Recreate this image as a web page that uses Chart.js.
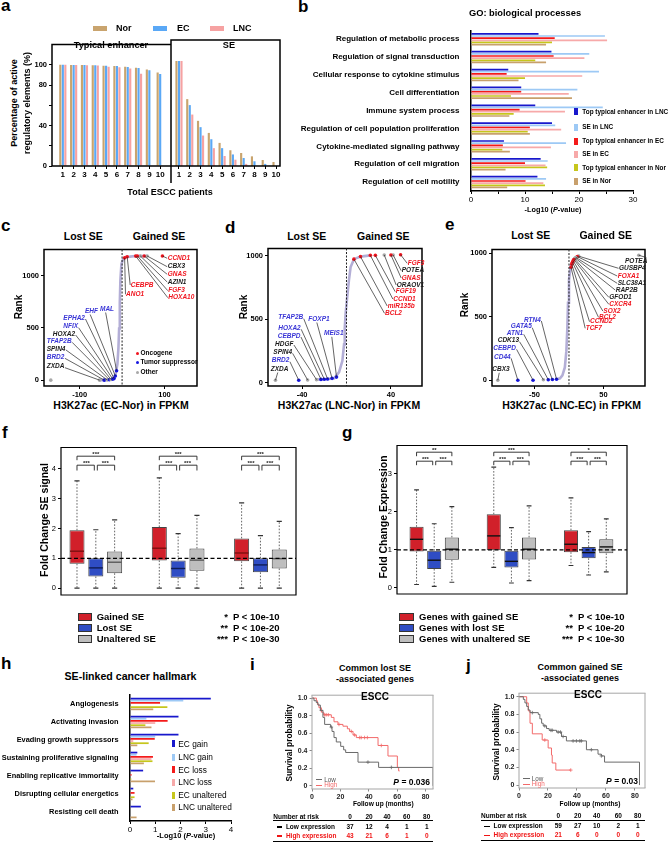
<!DOCTYPE html>
<html>
<head>
<meta charset="utf-8">
<title>SE figure</title>
<script src="https://cdn.jsdelivr.net/npm/chart.js@4.4.1/dist/chart.umd.min.js"></script>
<style>
  html, body { margin: 0; padding: 0; background: #fff; }
  body { position: relative; width: 670px; height: 842px; overflow: hidden;
         font-family: "Liberation Sans", Arial, sans-serif; color: #000; }
  canvas { position: absolute; }
  .t { position: absolute; white-space: nowrap; line-height: 1; font-weight: bold; }
</style>
</head>
<body>
<script>
// ---------- data ----------
// a: % active regulatory elements vs number of patients
const patients = [1, 2, 3, 4, 5, 6, 7, 8, 9, 10];
const typNor = [100, 99.8, 99.7, 99.4, 99.1, 98.7, 98.1, 97.1, 95.2, 92.4];
const typEC  = [100, 99.8, 99.7, 99.4, 99.1, 98.7, 97.8, 96.8, 94.6, 90.8];
const typLNC = [100, 99.8, 99.5, 99.2, 98.1, 97.5, 96.2, 91.1, null, null];
const seNor  = [100, 63.7, 43, 31.5, 22, 15, 12.4, 9.2, 5.7, 3.8];
const seEC   = [100, 58, 37, 25.5, 17, 11, 7.6, 4.5, 2, null];
const seLNC  = [100, 49, 29, 17, 9.5, 6, 2, null, null, null];
const aYTicks = [0, 20, 40, 60, 80, 100];
const aYLabels = [0, 40, 80, 100];

// b: GO biological processes, -log10 P
const goTerms = ['Regulation of metabolic process', 'Regulation of signal transduction',
  'Cellular response to cytokine stimulus', 'Cell differentiation', 'Immune system process',
  'Regulation of cell population proliferation', 'Cytokine-mediated signaling pathway',
  'Regulation of cell migration', 'Regulation of cell motility'];
const goSeries = ['Top typical enhancer in LNC', 'SE in LNC', 'Top typical enhancer in EC',
  'SE in EC', 'Top typical enhancer in Nor', 'SE in Nor'];
const goTopLNC = [12.5, 14.9, 6.9, 9.3, 11.9, 15.0, 6.1, 12.9, 12.3];
const goSeLNC  = [24.8, 21.9, 23.7, 19.7, 24.4, 15.6, 17.6, 14.2, 13.9];
const goTopEC  = [15.5, 15.3, 6.6, 9.3, 9.0, 10.9, 5.9, 10.0, 10.1];
const goSeEC   = [25.2, 21.0, 20.6, 18.1, 17.4, 16.7, 14.8, 13.8, 13.4];
const goTopNor = [15.0, 11.9, 10.0, 7.4, 7.9, 10.5, 5.8, 14.1, 13.7];
const goSeNor  = [13.9, 13.9, 8.8, 18.7, 7.1, 10.9, 7.2, 6.4, 6.7];

// c: EC-Nor rank plot
const cCurveX = [-53, -42, -26, -19, -15, -11, -8.6, -7, -5.4, -4, -1.6, 2.3, 8.6, 18.6, 32, 59];
const cCurveY = [0, 0, 6, 15, 62, 154, 308, 494, 740, 957, 1111, 1157, 1179, 1182, 1188, 1188];
const cGenes = ['ZXDA', 'BRD2', 'SPIN4', 'TFAP2B', 'HOXA2', 'NFIX', 'EPHA2', 'EHF', 'MAL',
  'CCND1', 'CBX3', 'GNAS', 'AZIN1', 'FGF3', 'HOXA10', 'CEBPB', 'ANO1', ''];
const cGeneX = [-53, -42, -35, -30, -26, -22, -19, -16, -13, 95, 59, 52, 43, 36, 32, 12, 6, -168];
const cGeneY = [0, 0, 2, 4, 6, 10, 15, 40, 90, 1188, 1188, 1188, 1188, 1188, 1187, 1180, 1170, 0];
const cGeneT = ['n', 't', 'n', 't', 'n', 't', 't', 't', 't', 'o', 'n', 'o', 'n', 'o', 'o', 'o', 'o', 'n'];

// d: LNC-Nor rank plot
const dCurveX = [-27, -23, -17, -11, -6.7, -3.7, -2.2, -1.6, -0.7, 0.7, 2.2, 3.7, 6.7, 12.6, 21.5];
const dCurveY = [25, 27, 29, 35, 84, 173, 303, 427, 555, 682, 809, 913, 975, 995, 1005];
const dGenes = ['ZXDA', 'BRD2', 'SPIN4', 'HDGF', 'CEBPD', 'HOXA2', 'TFAP2B', 'FOXP1', 'MEIS1',
  'FGF3', 'POTEA', 'GNAS', 'ORAOV1', 'FGF19', 'CCND1', 'miR135b', 'BCL2'];
const dGeneX = [-64, -43, -35, -27, -23, -20, -17, -13, -9, 48.7, 42, 40, 34, 26, 21.5, 12.6, 6.7];
const dGeneY = [20, 20, 22, 25, 27, 28, 30, 35, 45, 1010, 1008, 1008, 1008, 1005, 1005, 995, 975];
const dGeneT = ['n', 't', 'n', 'n', 't', 't', 't', 't', 't', 'o', 'n', 'o', 'n', 'o', 'o', 'o', 'o'];

// e: LNC-EC rank plot
const eCurveX = [-18, -13, -9.5, -6, -3.8, -2.4, -1.4, 0, 2.4, 7, 12, 16];
const eCurveY = [8, 15, 38, 101, 229, 407, 611, 789, 903, 954, 975, 980];
const eGenes = ['CBX3', 'CD44', 'CEBPD', 'CDK13', 'ATN1', 'GATA5', 'RTN4', 'POTEA', 'GUSBP4',
  'FOXA1', 'SLC38A1', 'RAP2B', 'GFOD1', 'CXCR4', 'SOX2', 'BCL2', 'CCND2', 'TCF7'];
const eGeneX = [-103, -74, -52, -37, -30, -24, -18, 101, 14, 12, 10, 9, 8, 7, 6, 5, 4, 3];
const eGeneY = [0, 0, 0, 3, 4, 5, 8, 985, 978, 975, 968, 963, 958, 952, 942, 930, 915, 890];
const eGeneT = ['n', 't', 't', 'n', 't', 't', 't', 'n', 'n', 'o', 'n', 'n', 'n', 'o', 'o', 'o', 'o', 'o'];

// f, g: box plots, each entry [min, q1, median, q3, max]
const boxGroups = ['EC/Nor', 'LNC/Nor', 'LNC/EC'];
const fGained = [[0, 0.82, 1.24, 1.94, 3.6], [0, 0.93, 1.34, 2.05, 3.7], [0, 0.9, 1.18, 1.67, 2.86]];
const fLost   = [[0, 0.39, 0.68, 1.0, 1.96], [0, 0.35, 0.66, 0.93, 1.83], [0, 0.53, 0.78, 1.0, 1.76]];
const fUnalt  = [[0, 0.5, 0.87, 1.23, 2.29], [0, 0.58, 0.94, 1.33, 2.44], [0, 0.66, 0.99, 1.3, 2.24]];
const fStars  = [['***', '***', '***'], ['***', '***', '***'], ['***', '***', '***']];
const gGained = [[0.09, 0.96, 1.28, 1.61, 2.58], [0.54, 0.99, 1.37, 1.94, 3.18], [0.59, 0.94, 1.15, 1.52, 2.37]];
const gLost   = [[0.04, 0.5, 0.73, 0.98, 1.69], [0.13, 0.54, 0.7, 0.98, 1.59], [0.34, 0.78, 0.93, 1.08, 1.48]];
const gUnalt  = [[0.15, 0.74, 1.02, 1.33, 2.14], [0.19, 0.75, 1.02, 1.33, 2.16], [0.42, 0.91, 1.08, 1.28, 1.82]];
const gStars  = [['**', '***', '***'], ['***', '***', '***'], ['*', '***', '***']];

// h: cancer hallmarks, -log10 P
const hTerms = ['Angiogenesis', 'Activating invasion', 'Evading growth suppressors',
  'Sustaining proliferative signaling', 'Enabling replicative immortality',
  'Disrupting cellular energetics', 'Resisting cell death'];
const hSeries = ['EC gain', 'LNC gain', 'EC loss', 'LNC loss', 'EC unaltered', 'LNC unaltered'];
const hECgain   = [3.2, 1.92, 1.92, 0.29, 0.52, 0.13, 0.43];
const hLNCgain  = [2.11, 0.65, 1.0, 0.26, 0, 0, 0];
const hECloss   = [1.19, 1.49, 0.98, 0.91, 0.06, 0.18, 0];
const hLNCloss  = [0, 1.0, 0.13, 0.85, 0, 0, 0];
const hECunalt  = [1.48, 0.61, 0.74, 0.89, 0.05, 0.18, 0];
const hLNCunalt = [0.92, 0.85, 0.29, 0.55, 0.99, 0.1, 0.26];

// i, j: Kaplan-Meier (time in months, survival)
const iLowT  = [0, 1.4, 3, 4.2, 5.9, 7.7, 8.9, 13.1, 14.1, 15.5, 17.1, 20.2, 22.3, 23.7, 32.4, 46.9, 85.2];
const iLowS  = [1, 0.97, 0.95, 0.92, 0.86, 0.78, 0.70, 0.67, 0.62, 0.55, 0.50, 0.45, 0.41, 0.38, 0.27, 0.21, 0];
const iHighT = [0, 3.1, 3.8, 4.9, 6.6, 8.2, 13.6, 15.5, 18.3, 21.8, 24.9, 26.5, 28.9, 31.2, 46.5, 53.5, 60.1, 61, 61.7];
const iHighS = [1, 0.97, 0.93, 0.89, 0.84, 0.81, 0.78, 0.73, 0.70, 0.68, 0.65, 0.62, 0.58, 0.55, 0.46, 0.34, 0.21, 0.17, 0.17];
const iLowC  = [6.6, 13.6, 39.4, 55.9];
const iHighC = [8.9, 10, 11.5, 19, 27.7, 30, 33.6, 34.7, 37, 39, 48.8];
const jLowT  = [0, 3, 4.1, 5.3, 6.4, 7.6, 13.3, 14.4, 15.6, 16.7, 19, 20.8, 25.9, 29.3, 32.7, 46.5, 54.5, 56.8, 59, 83.1];
const jLowS  = [1, 0.97, 0.93, 0.89, 0.85, 0.82, 0.80, 0.75, 0.70, 0.67, 0.64, 0.62, 0.60, 0.55, 0.50, 0.40, 0.35, 0.33, 0.26, 0];
const jHighT = [0, 4.1, 5.3, 6.4, 7.6, 9.2, 16, 20.1, 22.4, 22.9, 25.4, 35.7];
const jHighS = [1, 1, 0.93, 0.84, 0.70, 0.58, 0.51, 0.42, 0.34, 0.25, 0.17, 0.17];
const jLowC  = [9.2, 17.8, 22, 22.9, 27, 28.6, 30.4, 37.3, 39.6, 41.9, 43, 49.9, 56.8];
const jHighC = [17.8, 35.7];
const riskTimes = [0, 20, 40, 60, 80];
const iRiskLow = [37, 12, 4, 1, 1], iRiskHigh = [43, 21, 6, 1, 0];
const jRiskLow = [59, 27, 10, 2, 1], jRiskHigh = [21, 6, 0, 0, 0];

// ---------- layout / style ----------
const FF = '"Liberation Sans", Arial, sans-serif';
const F = (size, weight = 'bold') => ({ size, weight, family: FF });
const C = { nor: '#C9A46E', ec: '#5AA8F6', lnc: '#F6A2A2' };
const SIXC = ['#1818CC', '#9DC9F5', '#F41A1A', '#F7A9A9', '#C6C61C', '#C8A06C'];
const PTC = { o: '#F0141E', t: '#1616E0', n: '#A8A8A8' };
const LABC = { o: '#F0141E', t: '#3A36D6', n: '#1a1a1a' };
const BOXC = ['#D1202A', '#2F4DC4', '#BEBEBE'];
const RED = '#F01414';
const TG = { drawOnChartArea: false, tickLength: 3, color: '#000', lineWidth: 1 };
const plain = v => String(v);

// label anchors (page px) and where the leader line leaves the label
const cLabPos = [[46.7, 366.7], [46.7, 357.3], [46.7, 349], [46.7, 341.3], [52.7, 334], [63.3, 326.7],
  [63.3, 318], [85, 311], [100, 309], [167.7, 258.3], [167.7, 266.7], [167.7, 274.3], [167.7, 282],
  [168.3, 290.7], [168.3, 297.7], [130.7, 285], [126, 294.3], null];
const cLabAtt = ['r', 'r', 'r', 'r', 'r', 'r', 'r', 'b', 'b', 'l', 'l', 'l', 'l', 'l', 'l', 'l', 'l', ''];
const dLabPos = [[270.7, 369], [271.7, 360.7], [273.3, 352.3], [275, 344], [277.7, 336], [278.3, 328.3],
  [278.3, 317.7], [308.3, 319], [324, 333.3], [407.7, 263.3], [401.7, 270.7], [401.7, 278], [396.7, 285],
  [395.7, 291.7], [393.3, 299], [387.7, 306], [385, 313.3]];
const dLabAtt = ['b', 'r', 'r', 'r', 'r', 'r', 'r', 'b', 'b', 'l', 'l', 'l', 'l', 'l', 'l', 'l', 'l'];
const eLabPos = [[492.3, 369.3], [494, 357.3], [493.3, 348.3], [497.7, 340.7], [506.7, 333.3], [510.7, 326.7],
  [524, 320], [625, 261], [619, 268.3], [617.7, 276], [617.7, 283.3], [615.7, 290], [609.3, 297.3],
  [609.3, 304.3], [603.3, 311], [599, 317.3], [590, 321.7], [585.7, 328.3]];
const eLabAtt = ['b', 'r', 'r', 'r', 'r', 'r', 'r', 't', 'l', 'l', 'l', 'l', 'l', 'l', 'l', 'l', 'l', 'l'];

// ---------- helpers ----------
function T(html, x, y, size, o = {}) {
  const d = document.createElement('div');
  d.className = 't';
  d.innerHTML = html;
  d.style.left = x + 'px';
  d.style.top = y + 'px';
  d.style.fontSize = size + 'px';
  if (o.w) d.style.fontWeight = o.w;
  if (o.c) d.style.color = o.c;
  if (o.i) d.style.fontStyle = 'italic';
  const ax = { l: '0', c: '-50%', r: '-100%' }[o.a || 'l'];
  d.style.transform = o.rot ? 'translate(-50%,-50%) rotate(-90deg)' : `translate(${ax},-50%)`;
  document.body.appendChild(d);
}
function R(x, yc, w, h, fill, border, round) {
  const d = document.createElement('div');
  Object.assign(d.style, { position: 'absolute', left: x + 'px', top: (yc - h / 2) + 'px',
    width: w + 'px', height: h + 'px', background: fill, boxSizing: 'border-box' });
  if (border) d.style.border = '1px solid ' + border;
  if (round) d.style.borderRadius = '50%';
  document.body.appendChild(d);
}
function L(x0, y, x1, col, h = 1) { R(x0, y, x1 - x0, h, col); }

function mkChart(box, pad, cfg, plugins) {
  const cv = document.createElement('canvas');
  const W = Math.round(box.w + pad.l + pad.r), H = Math.round(box.h + pad.t + pad.b);
  cv.width = W; cv.height = H;
  cv.style.left = (box.x - pad.l) + 'px';
  cv.style.top = (box.y - pad.t) + 'px';
  cv.style.width = W + 'px'; cv.style.height = H + 'px';
  cv._ox = box.x - pad.l; cv._oy = box.y - pad.t;
  document.body.appendChild(cv);
  const o = cfg.options;
  const sx = o.scales.x, sy = o.scales.y;
  const xShown = sx.display !== false, yShown = sy.display !== false;
  o.responsive = false; o.animation = false; o.devicePixelRatio = 1;
  o.plugins = Object.assign({ legend: { display: false }, tooltip: { enabled: false } }, o.plugins || {});
  o.layout = { padding: { top: pad.t, right: pad.r, left: yShown ? 0 : pad.l, bottom: xShown ? 0 : pad.b } };
  if (xShown) sx.afterFit = s => { s.height = pad.b; };
  if (yShown) sy.afterFit = s => { s.width = pad.l; };
  cfg.plugins = plugins || [];
  return new Chart(cv, cfg);
}
function frame(color, lw, sides, extra) {
  return { id: 'frame', afterDatasetsDraw(ch) {
    const a = ch.chartArea, c = ch.ctx;
    c.save(); c.strokeStyle = color; c.lineWidth = lw; c.beginPath();
    if (sides.includes('t')) { c.moveTo(a.left - lw / 2, a.top); c.lineTo(a.right + lw / 2, a.top); }
    if (sides.includes('b')) { c.moveTo(a.left - lw / 2, a.bottom); c.lineTo(a.right + lw / 2, a.bottom); }
    if (sides.includes('l')) { c.moveTo(a.left, a.top); c.lineTo(a.left, a.bottom + (extra || 0)); }
    if (sides.includes('r')) { c.moveTo(a.right, a.top); c.lineTo(a.right, a.bottom); }
    c.stroke(); c.restore();
  } };
}
const fixTicks = vals => s => { s.ticks = vals.map(v => ({ value: v })); };

// ---------- panel a ----------
function aSets(nor, ec, lnc) {
  return [nor, ec, lnc].map((arr, k) => ({
    data: patients.map((p, i) => ({ x: p, y: arr[i] })),
    backgroundColor: [C.nor, C.ec, C.lnc][k],
    categoryPercentage: 0.7, barPercentage: 0.85
  }));
}
function aOpts(xmin, xmax, showY) {
  return { scales: {
    x: { type: 'linear', offset: false, min: xmin, max: xmax, afterBuildTicks: fixTicks(patients),
      ticks: { font: F(8), color: '#000', padding: 1, autoSkip: false, maxRotation: 0, callback: plain },
      grid: Object.assign({ offset: false }, TG), border: { display: false } },
    y: { display: showY, min: 0, max: 120, afterBuildTicks: fixTicks(aYTicks),
      ticks: { font: F(7.5), color: '#000', padding: 2, callback: v => aYLabels.includes(v) ? String(v) : '' },
      grid: TG, border: { display: false } }
  } };
}
mkChart({ x: 52, y: 40, w: 119, h: 126 }, { l: 30, r: 0, t: 2, b: 19 },
  { type: 'bar', data: { datasets: aSets(typNor, typEC, typLNC) }, options: aOpts(0, 11, true) },
  [frame('#000', 1.5, 'tlb')]);
mkChart({ x: 171, y: 40, w: 109, h: 126 }, { l: 2, r: 3, t: 2, b: 19 },
  { type: 'bar', data: { datasets: aSets(seNor, seEC, seLNC) }, options: aOpts(0.26, 10.37, false) },
  [frame('#000', 1.5, 'tlbr', 17)]);

// ---------- panels b and h (grouped horizontal bars) ----------
function hbar(box, pad, labels, series, xmax, xstep, every, catPct, lblSize) {
  mkChart(box, pad, {
    type: 'bar',
    data: { labels, datasets: series.map((d, k) => ({ data: d, backgroundColor: SIXC[k],
      categoryPercentage: catPct, barPercentage: 0.8 })) },
    options: { indexAxis: 'y', scales: {
      x: { min: 0, max: xmax, ticks: { stepSize: xstep, font: F(8, 'normal'), color: '#000', padding: 1,
        maxRotation: 0, callback: v => (v % every === 0 ? String(v) : '') },
        grid: TG, border: { display: true, color: '#000', width: 1.5 } },
      y: { ticks: { font: F(lblSize), color: '#000', padding: 3.5, autoSkip: false },
        grid: { display: false }, border: { display: true, color: '#000', width: 1.5 } }
    } }
  });
}
hbar({ x: 471, y: 23, w: 162, h: 168 }, { l: 170, r: 8, t: 1, b: 13 }, goTerms,
  [goTopLNC, goSeLNC, goTopEC, goSeEC, goTopNor, goSeNor], 30, 5, 10, 0.72, 8);
hbar({ x: 130, y: 688, w: 101, h: 133 }, { l: 130, r: 7, t: 1, b: 12 }, hTerms,
  [hECgain, hLNCgain, hECloss, hLNCloss, hECunalt, hLNCunalt], 4, 1, 1, 0.72, 7.4);

// ---------- panels c, d, e (rank plots) ----------
function rankChart(box, xr, yr, xt, cx, cy, gn, gx, gy, gt, lp, la) {
  const genes = { id: 'genes', afterDatasetsDraw(ch) {
    const c = ch.ctx, xs = ch.scales.x, ys = ch.scales.y, a = ch.chartArea;
    const ox = ch.canvas._ox, oy = ch.canvas._oy;
    c.save();
    const zx = xs.getPixelForValue(0);
    c.setLineDash([2, 1.5]); c.strokeStyle = '#222'; c.lineWidth = 1;
    c.beginPath(); c.moveTo(zx, a.top); c.lineTo(zx, a.bottom); c.stroke(); c.setLineDash([]);
    c.font = 'italic bold 6.5px ' + FF; c.textBaseline = 'middle';
    gn.forEach((g, i) => {
      if (!g) return;
      const lx = lp[i][0] - ox, ly = lp[i][1] - oy, w = c.measureText(g).width;
      const px = xs.getPixelForValue(gx[i]), py = ys.getPixelForValue(gy[i]);
      let sx, sy;
      if (la[i] === 'r') { sx = lx + w + 0.5; sy = ly + 1; }
      else if (la[i] === 'l') { sx = lx - 0.5; sy = ly; }
      else if (la[i] === 't') { sx = lx + w - 1; sy = ly - 3.5; }
      else { sx = lx + w * 0.4; sy = ly + 3.5; }
      c.strokeStyle = '#222'; c.lineWidth = 0.7;
      c.beginPath(); c.moveTo(sx, sy); c.lineTo(px, py); c.stroke();
      c.fillStyle = LABC[gt[i]]; c.fillText(g, lx, ly);
    });
    c.restore();
  } };
  mkChart(box, { l: 22, r: 2, t: 2, b: 12 }, {
    type: 'scatter',
    data: { datasets: [
      { data: gx.map((v, i) => ({ x: v, y: gy[i] })), pointRadius: 1.8, pointBorderWidth: 0,
        pointBackgroundColor: gt.map(t => PTC[t]) },
      { data: cx.map((v, i) => ({ x: v, y: cy[i] })), showLine: true, borderColor: '#B3AED6',
        borderWidth: 2.6, pointRadius: 0 }
    ] },
    options: { scales: {
      x: { type: 'linear', min: xr[0], max: xr[1], afterBuildTicks: fixTicks(xt),
        ticks: { font: F(7.5), color: '#000', padding: 1, maxRotation: 0, callback: plain },
        grid: TG, border: { display: false } },
      y: { min: yr[0], max: yr[1], afterBuildTicks: fixTicks([0, 500, 1000]),
        ticks: { font: F(7.5), color: '#000', padding: 2, callback: plain }, grid: TG, border: { display: false } }
    } }
  }, [frame('#000', 1.5, 'tlbr'), genes]);
}
rankChart({ x: 44, y: 245, w: 155, h: 141 }, [-184, 176.5], [-56, 1250], [-100, 100],
  cCurveX, cCurveY, cGenes, cGeneX, cGeneY, cGeneT, cLabPos, cLabAtt);
rankChart({ x: 268, y: 244, w: 156, h: 142 }, [-70.7, 68], [-25.2, 1059], [-40, 40],
  dCurveX, dCurveY, dGenes, dGeneX, dGeneY, dGeneT, dLabPos, dLabAtt);
rankChart({ x: 492, y: 245, w: 155, h: 141 }, [-111.4, 110], [-45.8, 1030.5], [-50, 50],
  eCurveX, eCurveY, eGenes, eGeneX, eGeneY, eGeneT, eLabPos, eLabAtt);

// ---------- panels f, g (box plots) ----------
function boxChart(box, xr, yr, yt, series, stars, br, medCol) {
  const plug = { id: 'box', afterDatasetsDraw(ch) {
    const c = ch.ctx, ys = ch.scales.y, a = ch.chartArea;
    c.save();
    series.forEach((s, k) => {
      ch.getDatasetMeta(k).data.forEach((el, i) => {
        const q = s[i], x = el.x, w = el.width, p = q.map(v => ys.getPixelForValue(v));
        c.strokeStyle = '#555'; c.lineWidth = 0.9; c.setLineDash([1.6, 1.6]);
        c.beginPath(); c.moveTo(x, p[3]); c.lineTo(x, p[4]); c.moveTo(x, p[1]); c.lineTo(x, p[0]); c.stroke();
        c.setLineDash([]); c.lineWidth = 1.2; c.strokeStyle = '#333';
        c.beginPath();
        c.moveTo(x - w * 0.17, p[4]); c.lineTo(x + w * 0.17, p[4]);
        c.moveTo(x - w * 0.17, p[0]); c.lineTo(x + w * 0.17, p[0]); c.stroke();
        c.strokeStyle = medCol[k]; c.lineWidth = 1.4;
        c.beginPath(); c.moveTo(x - w / 2 + 0.5, p[2]); c.lineTo(x + w / 2 - 0.5, p[2]); c.stroke();
      });
    });
    const y1 = ys.getPixelForValue(1);
    c.strokeStyle = '#000'; c.lineWidth = 1.3; c.setLineDash([4, 2.5]);
    c.beginPath(); c.moveTo(a.left, y1); c.lineTo(a.right, y1); c.stroke(); c.setLineDash([]);
    const m0 = ch.getDatasetMeta(0).data, m1 = ch.getDatasetMeta(1).data, m2 = ch.getDatasetMeta(2).data;
    c.lineWidth = 0.9; c.strokeStyle = '#222'; c.fillStyle = '#222';
    c.font = 'bold 6px ' + FF; c.textAlign = 'center'; c.textBaseline = 'middle';
    const bk = (x0, x1, yb, yl) => { c.beginPath(); c.moveTo(x0, a.top + yl); c.lineTo(x0, a.top + yb);
      c.lineTo(x1, a.top + yb); c.lineTo(x1, a.top + yl); c.stroke(); };
    stars.forEach((st, i) => {
      const xa = m0[i].x, xb = m1[i].x, xc = m2[i].x;
      bk(xa, xc, br[0], br[1]); c.fillText(st[0], (xa + xc) / 2, a.top + br[0] - 2.2);
      bk(xa, xb - 1.5, br[2], br[3]); c.fillText(st[1], (xa + xb) / 2, a.top + br[2] - 2.2);
      bk(xb + 1.5, xc, br[2], br[3]); c.fillText(st[2], (xb + xc) / 2, a.top + br[2] - 2.2);
    });
    c.restore();
  } };
  mkChart(box, { l: 18, r: 2, t: 2, b: 12 }, {
    type: 'bar',
    data: { datasets: series.map((s, k) => ({
      data: s.map((q, i) => ({ x: i + 1, y: [q[1], q[3]] })),
      backgroundColor: BOXC[k], borderColor: '#444', borderWidth: 1, borderSkipped: false,
      categoryPercentage: 0.686, barPercentage: 0.8 })) },
    options: { scales: {
      x: { type: 'linear', offset: false, min: xr[0], max: xr[1], afterBuildTicks: fixTicks([1, 2, 3]),
        ticks: { font: F(7.5), color: '#000', padding: 3, maxRotation: 0, callback: v => boxGroups[v - 1] },
        grid: { display: false }, border: { display: false } },
      y: { min: yr[0], max: yr[1], afterBuildTicks: fixTicks(yt),
        ticks: { font: F(7.5, 'normal'), color: '#000', padding: 2, callback: plain }, grid: TG, border: { display: false } }
    } }
  }, [frame('#000', 1.2, 'tlbr'), plug]);
}
boxChart({ x: 61, y: 443, w: 235, h: 152 }, [0.577, 3.432], [-0.23, 4.72], [0, 1, 2, 3, 4],
  [fGained, fLost, fUnalt], fStars, [8.7, 12.7, 17.7, 23], ['#7d1010', '#101d55', '#5a5a5a']);
boxChart({ x: 397, y: 441, w: 230, h: 153 }, [0.518, 3.497], [-0.16, 3.75], [0, 1, 2, 3],
  [gGained, gLost, gUnalt], gStars, [6.7, 10.7, 15.7, 19.7], ['#111', '#111', '#111']);

// ---------- panels i, j (Kaplan-Meier) ----------
function stepAt(ts, ss, t) { let v = ss[0]; ts.forEach((x, i) => { if (x <= t) v = ss[i]; }); return v; }
function km(box, xmax, yr, lowT, lowS, highT, highS, lowC, highC) {
  const pts = (ts, ss) => ts.map((t, i) => ({ x: t, y: ss[i] }));
  const cens = (cs, ts, ss) => cs.map(t => ({ x: t, y: stepAt(ts, ss, t) }));
  const grey = '#6a6a6a', red = '#F26A6A';
  mkChart(box, { l: 20, r: 6, t: 2, b: 11 }, {
    type: 'scatter',
    data: { datasets: [
      { data: pts(lowT, lowS), showLine: true, stepped: true, borderColor: grey, borderWidth: 1, pointRadius: 0 },
      { data: pts(highT, highS), showLine: true, stepped: true, borderColor: red, borderWidth: 1, pointRadius: 0 },
      { data: cens(lowC, lowT, lowS), pointStyle: 'cross', pointRadius: 1.8, pointBorderColor: grey, pointBorderWidth: 0.8 },
      { data: cens(highC, highT, highS), pointStyle: 'cross', pointRadius: 1.8, pointBorderColor: red, pointBorderWidth: 0.8 }
    ] },
    options: { scales: {
      x: { type: 'linear', min: 0, max: xmax, afterBuildTicks: fixTicks(riskTimes),
        ticks: { font: F(7), color: '#222', padding: 1, maxRotation: 0, callback: plain },
        grid: Object.assign({}, TG, { color: '#888', tickLength: 2.5 }), border: { display: false } },
      y: { min: yr[0], max: yr[1], afterBuildTicks: fixTicks([0, 0.2, 0.4, 0.6, 0.8, 1]),
        ticks: { font: F(7), color: '#222', padding: 2, callback: v => (v === 0 ? '0' : v.toFixed(1)) },
        grid: Object.assign({}, TG, { color: '#888', tickLength: 2.5 }), border: { display: false } }
    } }
  }, [frame('#A5A5A5', 1, 'tlbr')]);
}
km({ x: 312.3, y: 691, w: 121, h: 98 }, 85.2, [-0.036, 1.033], iLowT, iLowS, iHighT, iHighS, iLowC, iHighC);
km({ x: 519, y: 689, w: 126, h: 99.3 }, 86.9, [-0.033, 1.04], jLowT, jLowS, jHighT, jHighS, jLowC, jHighC);

// ---------- text ----------
[['a', 1, 4.5], ['b', 298, 5.5], ['c', 1, 225], ['d', 225, 226.5], ['e', 445, 223.5],
 ['f', 2, 432], ['g', 342, 432], ['h', 1, 663], ['i', 250, 663.5], ['j', 466, 664.5]]
  .forEach(([s, x, y]) => T(s, x, y, 17));

// a
R(93, 28, 14, 5, C.nor); R(153, 28, 14, 5, C.ec); R(210, 28, 14, 5, C.lnc);
T('Nor', 116, 28, 9); T('EC', 177, 28, 9); T('LNC', 233, 28, 9);
T('Typical enhancer', 111, 46, 9.2, { a: 'c' }); T('SE', 229, 46, 9.2, { a: 'c' });
T('Percentage of active', 14, 103, 9, { rot: 1 }); T('regulatory elements (%)', 26.5, 103, 9, { rot: 1 });
T('Total ESCC patients', 170, 192, 9, { a: 'c' });

// b
T('GO: biological processes', 525, 14, 9.3, { a: 'c' });
T('-Log10 (<i>P</i>-value)', 553, 210, 7.3, { a: 'c' });
[111.7, 127, 141, 154, 167.7, 181].forEach((y, k) => { R(574.3, y, 3.5, 7, SIXC[k]); T(goSeries[k], 582.3, y, 6.4); });

// c, d, e
[[83.3, 159, 235.7], [306.7, 383.3, 235.7], [530.7, 605.7, 235]].forEach(([x1, x2, y]) => {
  T('Lost SE', x1, y, 10.5, { a: 'c' }); T('Gained SE', x2, y, 10.5, { a: 'c' });
});
[[19, 306.7], [244, 306.7], [465, 305]].forEach(([x, y]) => T('Rank', x, y, 10, { rot: 1 }));
T('H3K27ac (EC-Nor) in FPKM', 121, 405, 10.5, { a: 'c' });
T('H3K27ac (LNC-Nor) in FPKM', 349, 405, 10.5, { a: 'c' });
T('H3K27ac (LNC-EC) in FPKM', 571.7, 405, 10.5, { a: 'c' });
[['Oncogene', PTC.o, 353], ['Tumor suppressor', PTC.t, 362], ['Other', PTC.n, 372]].forEach(([s, col, y]) => {
  R(135.8, y, 3, 3, col, null, true); T(s, 140.5, y, 6.5);
});

// f, g
T('Fold Change SE signal', 44, 520, 10.5, { rot: 1 });
T('Fold Change Expression', 382.5, 516.7, 10.5, { rot: 1 });
const fLeg = ['Gained SE', 'Lost SE', 'Unaltered SE'];
const gLeg = ['Genes with gained SE', 'Genes with lost SE', 'Genes with unaltered SE'];
const pLeg = ['P &lt; 10e-10', 'P &lt; 10e-20', 'P &lt; 10e-30'];
[617, 628, 639].forEach((y, k) => {
  R(77.7, y, 14.5, 7.5, BOXC[k], '#333'); T(fLeg[k], 96.7, y, 9.5);
  T('*'.repeat(k + 1), 228, y, 9.5, { a: 'r' }); T(pLeg[k], 233, y, 9.5);
  R(399, y, 14.5, 7.5, BOXC[k], '#333'); T(gLeg[k], 419, y, 9.5);
  T('*'.repeat(k + 1), 573, y, 9.5, { a: 'r' }); T(pLeg[k], 578, y, 9.5);
});

// h
T('SE-linked cancer hallmark', 130.5, 676, 10.6, { a: 'c' });
T('-Log10 (<i>P</i>-value)', 186, 835.7, 7.5, { a: 'c' });
[743.7, 757, 769.7, 782.3, 795, 807].forEach((y, k) => { R(171.7, y, 3.5, 7, SIXC[k]); T(hSeries[k], 178.3, y, 8.3, { w: 'normal' }); });

// i, j
function kmText(cx, t1, t2, ty, esccX, escc, pTxt, pX, pY, legX, yT, xT, tab) {
  T(t1, cx, ty, 9, { a: 'c' }); T(t2, cx, ty + 10.8, 9, { a: 'c' });
  T('ESCC', esccX, escc, 10, { a: 'c' });
  T('<i>P</i> = ' + pTxt, pX, pY, 8.5, { a: 'r' });
  L(legX, pY - 1.8, legX + 6.6, '#6a6a6a', 1); T('Low', legX + 8.5, pY - 1.8, 6.3, { w: 'normal', c: '#555' });
  L(legX, pY + 3.3, legX + 6.6, '#F26A6A', 1); T('High', legX + 8.5, pY + 3.3, 6.3, { w: 'normal', c: '#F26A6A' });
  T('Survival probability', yT[0], yT[1], 8.3, { rot: 1 });
  T('Follow up (months)', xT[0], xT[1], 6.6, { a: 'c' });
  const [x0, x1, cols, yh, low, high] = tab;
  T('Number at risk', x0, yh, 6.5);
  L(x0, yh + 4, x1, '#000', 0.8); L(x0, yh + 24.2, x1, '#000', 0.8);
  riskTimes.forEach((t, k) => {
    T(String(t), cols[k], yh, 6.5, { a: 'c' });
    T(String(low[k]), cols[k], yh + 10.2, 6.5, { a: 'c' });
    T(String(high[k]), cols[k], yh + 19.2, 6.5, { a: 'c', c: RED });
  });
  L(x0 + 3.4, yh + 10.2, x0 + 8.6, '#000', 1.3); T('Low expression', x0 + 12.6, yh + 10.2, 6.5);
  L(x0 + 3.4, yh + 19.2, x0 + 8.6, RED, 1.3); T('High expression', x0 + 12.6, yh + 19.2, 6.5, { c: RED });
}
kmText(375, 'Common lost SE', '-associated genes', 667.7, 375, 696.7, '0.036', 430, 781.7, 315.7,
  [289, 743], [383.3, 804.3], [273.3, 433, [350, 369, 387, 406.7, 426.7], 816.7, iRiskLow, iRiskHigh]);
kmText(580, 'Common gained SE', '-associated genes', 666.7, 588, 695, '0.03', 638, 780.7, 523.3,
  [495.7, 741.7], [590, 803.7], [481, 645, [558.3, 577.7, 596.7, 618.3, 637.7], 816, jRiskLow, jRiskHigh]);
</script>
</body>
</html>
